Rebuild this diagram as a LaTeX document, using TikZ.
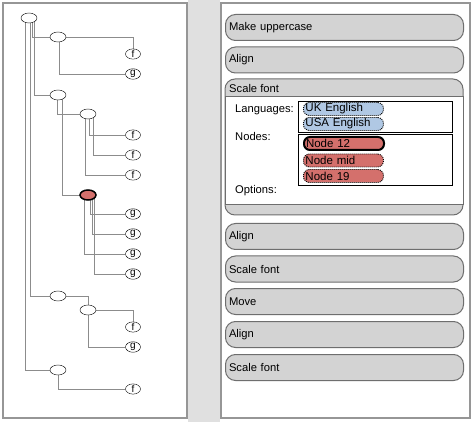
\documentclass[tikz,border=0pt]{standalone}
\usepackage{fontspec}
\setmainfont{Liberation Sans}
\usetikzlibrary{shapes.geometric,backgrounds}
\definecolor{itemgray}{RGB}{211,211,211}
\definecolor{framegray}{RGB}{110,110,110}
\definecolor{panelgray}{RGB}{150,150,150}
\definecolor{stripgray}{RGB}{224,224,224}
\definecolor{edgegray}{RGB}{140,140,140}
\definecolor{selred}{RGB}{212,112,108}
\definecolor{langblue}{RGB}{176,200,228}
\begin{document}
\begin{tikzpicture}[x=1pt, y=-1pt, font=\fontsize{11.2}{12}\selectfont,
    panel/.style={draw=panelgray, fill=white, line width=1.5pt},
    inner/.style={draw, ellipse, fill=white, minimum width=16pt, minimum height=10pt, inner sep=0pt},
    leaf/.style={draw, ellipse, fill=white, minimum width=15pt, minimum height=9pt, inner sep=0pt, font=\fontsize{10}{10}\selectfont},
    edge/.style={draw=edgegray, line width=0.7pt},
    item/.style={draw=framegray, fill=itemgray, rounded corners=10pt, line width=1pt, anchor=west,
        minimum width=238pt, minimum height=26pt, text width=231pt, inner xsep=3.5pt, align=left},
    tag/.style={draw, rounded corners=6pt, anchor=west, minimum width=80pt, minimum height=13pt,
        text width=76pt, inner xsep=2pt, inner ysep=0pt, align=left, font=\fontsize{11.5}{12}\selectfont},
    loose/.style={dash pattern=on 1pt off 1pt, line width=0.9pt},
    label/.style={anchor=west, inner sep=0pt}
]
\useasboundingbox (0,0) rectangle (474,422);
\fill[stripgray] (188,0) rectangle (220,422);
\draw[panel] (221,3) rectangle (470,418);

% tree
\node[inner] (root) at (29,18) {};
\node[inner] (a) at (58,37) {};
\node[leaf] (fa) at (133,54) {f};
\node[leaf] (ga) at (133,74) {g};
\node[inner] (b) at (58,95) {};
\node[inner] (c) at (88,114) {};
\node[leaf] (fc1) at (133,135) {f};
\node[leaf] (fc2) at (133,155) {f};
\node[leaf] (fc3) at (133,175) {f};
\node[inner, fill=selred, line width=1.5pt] (sel) at (88,195) {};
\node[leaf] (gs1) at (133,214) {g};
\node[leaf] (gs2) at (133,234) {g};
\node[leaf] (gs3) at (133,254) {g};
\node[leaf] (gs4) at (133,274) {g};
\node[inner] (e) at (58,296) {};
\node[inner] (h) at (88,310) {};
\node[leaf] (fh) at (133,327) {f};
\node[leaf] (gh) at (133,347) {g};
\node[inner] (k) at (58,370) {};
\node[leaf] (fk) at (133,389) {f};

\begin{pgfonlayer}{background}
\draw[panel] (3,3) rectangle (187,418);
\draw[edge] ([xshift=-4]root.center) |- (k.center);
\draw[edge] ([xshift=1]root.center) |- (e.center);
\draw[edge] ([xshift=3]root.center) |- (a.center);
\draw[edge] ([xshift=5]root.center) |- (b.center);
\draw[edge] (a.center) -| (fa.north);
\draw[edge] ([xshift=1]a.center) |- (ga.west);
\draw[edge] ([xshift=-1]b.center) |- (c.center);
\draw[edge] ([xshift=4]b.center) |- (sel.center);
\draw[edge] ([xshift=1]c.center) |- (fc1.west);
\draw[edge] ([xshift=5]c.center) |- (fc2.west);
\draw[edge] ([xshift=-3]c.center) |- (fc3.west);
\draw[edge] ([xshift=2]sel.center) |- (gs1.west);
\draw[edge] ([xshift=4]sel.center) |- (gs2.west);
\draw[edge] ([xshift=-4]sel.center) |- (gs3.west);
\draw[edge] ([xshift=6]sel.center) |- (gs4.west);
\draw[edge] (e.center) -| (h.north);
\draw[edge] (h.center) -| (fh.north);
\draw[edge] (h.center) |- (gh.west);
\draw[edge] (k.center) |- (fk.west);
\end{pgfonlayer}

% operations
\node[item] (upper) at (225,27.5) {Make uppercase};
\node[item] (align1) at (225,60) {Align};
\draw[draw=framegray, fill=itemgray, line width=1pt, rounded corners=10pt] (225,79) rectangle (463,215);
\draw[draw=framegray, fill=white, line width=1pt] (225,97) rectangle (463,205);
\node[label] (scale1) at (229,88) {Scale font};
\node[label] (lang) at (235,110) {Languages:};
\node[label] (nodes) at (235,136) {Nodes:};
\node[label] (opts) at (235,191) {Options:};
\draw[line width=0.8pt] (298,101) rectangle (452,132);
\draw[line width=0.8pt] (298,134) rectangle (452,185);
\node[tag, fill=langblue, loose] (uk) at (303,109) {UK English};
\node[tag, fill=langblue, loose] (usa) at (303,124) {USA English};
\node[tag, fill=selred, line width=2pt] (n12) at (303,143.5) {Node 12};
\node[tag, fill=selred, loose] (nmid) at (303,160.5) {Node mid};
\node[tag, fill=selred, loose] (n19) at (303,176) {Node 19};
\node[item] (align2) at (225,236.5) {Align};
\node[item] (scale2) at (225,269) {Scale font};
\node[item] (move) at (225,301.5) {Move};
\node[item] (align3) at (225,334.5) {Align};
\node[item] (scale3) at (225,367.5) {Scale font};
\end{tikzpicture}
\end{document}
